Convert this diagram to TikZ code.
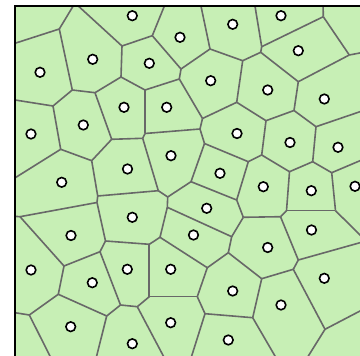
\documentclass[tikz,border=0pt]{standalone}
\usepackage{xcolor}
\usepackage{tikz}
\usetikzlibrary{calc}
\definecolor{cellgreen}{RGB}{199,239,181}
\definecolor{edgegray}{RGB}{104,104,104}

\tikzset{
  cellline/.style={edgegray, line width=1.6pt, line join=round},
  seed/.style={circle, draw=black, fill=white, line width=1.6pt, inner sep=0pt, minimum size=9.6pt}
}

\begin{document}
\begin{tikzpicture}[x=1pt, y=-1pt]
  \useasboundingbox (0,0) rectangle (360,356);
  % Voronoi vertices
  \foreach \n/\x/\y in {A/75/3, B/59.3/29, C/72.3/90, L/53/106, D/95/92.7, E/121/77,
      F/122/46, G/152.3/35.7, H/181/69, I/210/49, J/179.3/79, K/145/90,
      S/242.7/60.7, P1/261.7/46.7, P2/260.7/52.3, Q/323.3/16.7, R/349.3/55,
      T/298.3/81.7, M/202.5/118.5, AA/236.7/102.3, N/200/129, O/204.5/143.5,
      AJ/266/120.7, AK/294/110.5, AL/316/126.7, AI/261.7/155, AB/248.3/161.7,
      AM/312.7/161.7, AH/289.5/171.7, AN/331.7/172.7, AG/286.5/210.7,
      AO/335.5/210.7, AE/280.5/216.7, AD/243.3/217.3, AC/236.7/200,
      V1/191/181.7, BC/167.7/197, BD/167.3/207.3, BB/158.3/190.7,
      Va/142.7/138.3, Vb/145/133.5, D2/111.7/139.3, U/60.7/149.3, W/91.7/160.7,
      W2/97.7/196, W3/97/202.5, X/20/216.7, AF/231.7/236.7, BH/228.3/252.7,
      BP/207.3/267.7, BE/160/237.3, BF/149.3/244.3, BG/105.5/241, Z/100/251.7,
      Y/64/266, BT/58.3/294.3, BU/29.3/315, BS/106.7/316, BV/120.5/305,
      BR/137.3/306.7, BQ/149.3/296.7, BO/197.3/296.7, BN/205/313.7,
      BM/252.7/317.7, BI/261.7/278.7, BK/293.3/269.3, BJ/298.3/260, BL/325/329.3}
    \coordinate (\n) at (\x,\y);
  % free ends beyond the frame
  \foreach \n/\x/\y in {t3/166.8/0, t4/199.7/0, t5/254/0, t6/323/0,
      l1/10/44.9, l2/10/99.2, l3/10/181, l4/10/216, l5/10/311.9,
      b1/52.5/361, b2/95.4/361, b3/166/361, b4/190.1/361, b5/277.9/361, b6/305.2/361,
      r1/365/52, r2/365/110, r3/365/158.6, r4/365/239.9, r5/365/241.3, r6/365/308.4}
    \coordinate (\n) at (\x,\y);

  % cells
  \fill[cellgreen] (15,6) rectangle (360,356);
  \begin{scope}
    \clip (15,6) rectangle (360,356);
    \foreach \a/\b in {A/B, A/F, B/l1, B/C, C/L, C/D, L/l2, L/U, D/E, D/D2,
        E/F, E/K, F/G, G/t3, G/H, H/I, H/J, I/t4, I/S, J/K, J/M, K/Vb,
        S/P2, S/AA, P1/t5, P1/P2, P1/Q, Q/t6, Q/R, R/r1, R/T, P2/T, T/AK,
        M/AA, M/N, AA/AJ, N/Vb, N/O, O/AB, O/V1, AJ/AK, AJ/AI, AK/AL,
        AL/r2, AL/AM, AI/AB, AI/AH, AB/AC, AM/AH, AM/AN, AN/r3, AN/AO,
        AH/AG, AG/AO, AG/AE, AO/r4, AE/AD, AE/BJ, AD/AC, AD/AF, AC/V1,
        V1/BC, BC/BB, BC/BD, BB/Va, BB/W2, Va/Vb, Va/D2, D2/W, U/l3, U/W,
        W/W2, W2/W3, W3/X, W3/BG, X/l4, X/Y, BD/AF, BD/BE, AF/BH, BH/BP,
        BH/BI, BE/BF, BE/BP, BF/BG, BF/BQ, BG/Z, Z/Y, Z/BV, Y/BT, BT/BU,
        BT/BS, BU/l5, BU/b1, BS/b2, BS/BV, BV/BR, BR/BQ, BR/b3, BQ/BO,
        BO/BP, BO/BN, BN/b4, BN/BM, BM/BI, BM/b5, BI/BK, BK/BJ, BK/BL,
        BJ/r5, BL/r6, BL/b6}
      \draw[cellline] (\a) -- (\b);
    % sites
    \foreach \x/\y [count=\i] in {132.3/15.7, 232.7/24.3, 281/15.7, 180/37.3,
        298.3/50.7, 40/72.3, 92.7/59.3, 149.3/63.3, 210.7/80.7, 267.7/90,
        324.3/99, 124/107.3, 166.7/107.3, 83.3/125, 31/134, 237/133.5,
        290/142.5, 338/147.3, 171/155.7, 127.5/169, 220/173.3, 263.3/186.7,
        311.3/190.7, 355/186.3, 61.7/182.3, 206.7/208.3, 132.3/217.3,
        311.5/230, 193.5/235, 267.7/247.5, 71/235.5, 31/270, 92.3/282.7,
        127.3/269.3, 170.7/269.3, 232.7/291, 324.3/278.3, 281/305,
        70.7/326.7, 132.3/343.7, 170.7/322.7, 228.3/340}
      \node[seed] (s\i) at (\x,\y) {};
  \end{scope}
  % frame
  \draw[black, line width=1.8pt] (15,356) -- (15,6) -- (360,6);
\end{tikzpicture}
\end{document}
